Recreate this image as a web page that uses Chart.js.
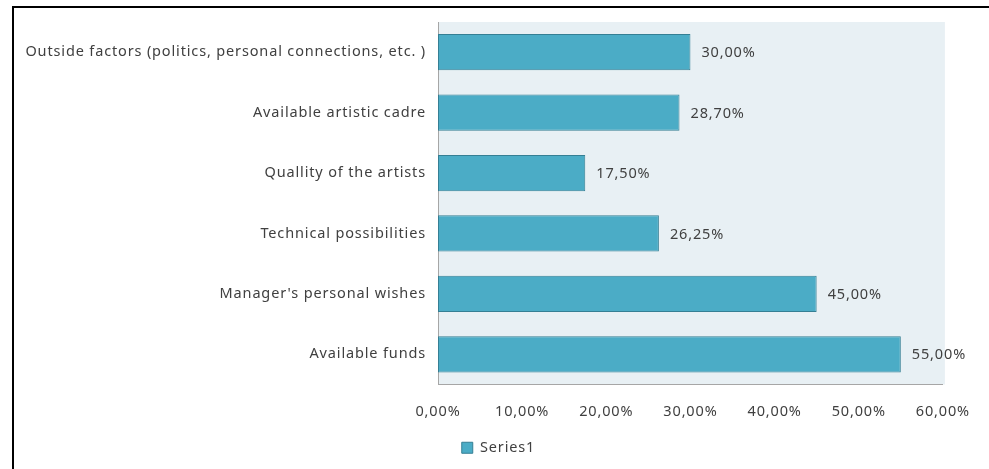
<!DOCTYPE html>
<html>
<head>
<meta charset="utf-8">
<script src="https://cdn.jsdelivr.net/npm/chart.js@4"></script>
<style>
  html, body { margin: 0; padding: 0; background: #fff; }
  #wrap { width: 989px; height: 469px; position: relative; }
</style>
</head>
<body>
<div id="wrap"><canvas id="chart" width="989" height="469"></canvas></div>
<script>
// datos del gráfico
const categorias = [
  'Outside factors (politics, personal connections, etc. )',
  'Available artistic cadre',
  'Quallity of the artists',
  'Technical possibilities',
  "Manager's personal wishes",
  'Available funds'
];
const valores = [30.00, 28.70, 17.50, 26.25, 45.00, 55.00];
const ejeMax = 60;
const ejePaso = 10;

const FUENTE = "'Noto Sans', 'Open Sans', sans-serif";
const TAM = 14.5;
const ESPACIADO = '0.85px';
const TEXTO = '#404040';

function pct(v) {
  return v.toFixed(2).replace('.', ',') + '%';
}

// marco negro arriba e izquierda, y fondo del área de trazado
const fondoYMarco = {
  id: 'fondoYMarco',
  beforeLayout(chart) {
    chart.ctx.letterSpacing = ESPACIADO;
  },
  afterLayout(chart) {
    // centrar la leyenda sobre todo el lienzo
    const lg = chart.legend;
    if (lg) { lg.left = 4; lg.right = chart.width + 4; lg.width = chart.width; }
  },
  beforeDraw(chart) {
    const { ctx, chartArea: a } = chart;
    ctx.letterSpacing = ESPACIADO;
    ctx.save();
    ctx.fillStyle = '#fff';
    ctx.fillRect(0, 0, chart.width, chart.height);
    ctx.fillStyle = '#e8f0f4';
    ctx.fillRect(a.left, a.top, a.right - a.left + 2, a.bottom - a.top);
    ctx.fillStyle = '#000';
    ctx.fillRect(12, 6, chart.width - 12, 2);
    ctx.fillRect(12, 6, 2, chart.height - 6);
    ctx.restore();
  }
};

// etiquetas de valor al final de cada barra
const etiquetas = {
  id: 'etiquetas',
  afterDatasetsDraw(chart) {
    const { ctx } = chart;
    const meta = chart.getDatasetMeta(0);
    ctx.save();
    ctx.font = TAM + 'px ' + FUENTE;
    ctx.fillStyle = TEXTO;
    ctx.textAlign = 'left';
    ctx.textBaseline = 'middle';
    meta.data.forEach((bar, i) => {
      ctx.fillText(pct(valores[i]), bar.x + 11, bar.y + 1);
    });
    ctx.restore();
  }
};

new Chart(document.getElementById('chart'), {
  type: 'bar',
  data: {
    labels: categorias,
    datasets: [{
      label: 'Series1',
      data: valores,
      backgroundColor: '#4bacc6',
      borderColor: '#357f94',
      borderWidth: 1,
      borderSkipped: false,
      categoryPercentage: 1,
      barPercentage: 0.6
    }]
  },
  options: {
    indexAxis: 'y',
    responsive: false,
    animation: false,
    layout: { padding: { top: 22, right: 46, bottom: 4, left: 0 } },
    plugins: {
      legend: {
        position: 'bottom',
        labels: {
          color: TEXTO,
          font: { family: FUENTE, size: TAM },
          boxWidth: 11,
          boxHeight: 11,
          padding: 8
        }
      },
      tooltip: { enabled: false }
    },
    scales: {
      x: {
        min: 0,
        max: ejeMax,
        ticks: {
          stepSize: ejePaso,
          color: TEXTO,
          font: { family: FUENTE, size: TAM },
          padding: 19,
          callback: v => pct(v)
        },
        grid: { display: false, drawTicks: false },
        border: { color: '#a6a6a6', width: 1 },
        afterFit(s) { s.height = 48; }
      },
      y: {
        ticks: {
          color: TEXTO,
          font: { family: FUENTE, size: TAM },
          padding: 12
        },
        grid: { display: false, drawTicks: false },
        border: { color: '#a6a6a6', width: 1 },
        afterFit(s) { s.width = 438; }
      }
    }
  },
  plugins: [fondoYMarco, etiquetas]
});
</script>
</body>
</html>
